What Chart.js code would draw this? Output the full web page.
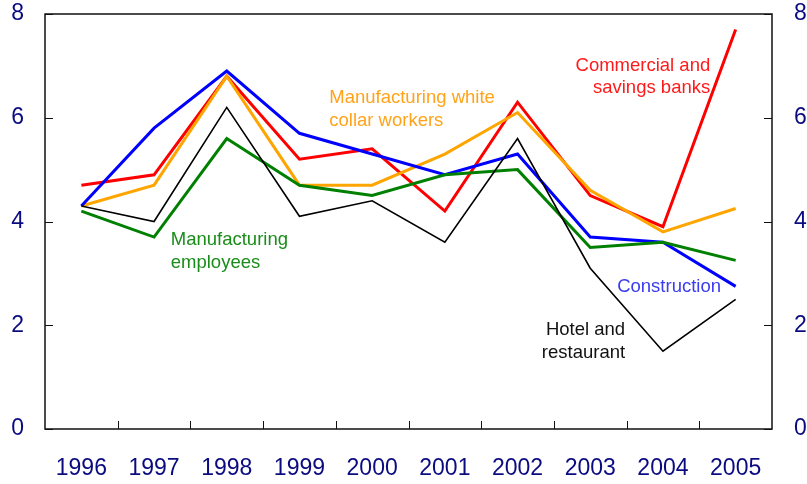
<!DOCTYPE html>
<html>
<head>
<meta charset="utf-8">
<script src="https://cdn.jsdelivr.net/npm/chart.js@4.4.1/dist/chart.umd.min.js"></script>
<style>
  html, body { margin: 0; padding: 0; background: #fff; }
  #wrap { width: 807px; height: 484px; }
</style>
</head>
<body>
<div id="wrap"><canvas id="chart"></canvas></div>
<script>
// categories
var years = ["1996", "1997", "1998", "1999", "2000", "2001", "2002", "2003", "2004", "2005"];

// series values
var construction = [4.3, 5.8, 6.9, 5.7, 5.3, 4.9, 5.3, 3.7, 3.6, 2.75];
var banks        = [4.7, 4.9, 6.8, 5.2, 5.4, 4.2, 6.3, 4.5, 3.9, 7.7];
var whiteCollar  = [4.3, 4.7, 6.8, 4.7, 4.7, 5.3, 6.1, 4.6, 3.8, 4.25];
var mfgEmployees = [4.2, 3.7, 5.6, 4.7, 4.5, 4.9, 5.0, 3.5, 3.6, 3.25];
var hotel        = [4.3, 4.0, 6.2, 4.1, 4.4, 3.6, 5.6, 3.1, 1.5, 2.5];

// y axis ticks
var yTicks = [0, 2, 4, 6, 8];

var navy = "#0b0b80";
var font = "Liberation Sans, Arial, sans-serif";

// in-chart labels: x = category index, y = value
var notes = [
    { lines: ["Commercial and", "savings banks"], x: 8.65, y: 7.0, align: "right", color: "#ff1a1a" },
    { lines: ["Manufacturing white", "collar workers"], x: 3.41, y: 6.38, align: "left", color: "#ffa31a" },
    { lines: ["Manufacturing", "employees"], x: 1.23, y: 3.64, align: "left", color: "#1a8c1a" },
    { lines: ["Construction"], x: 7.37, y: 2.74, align: "left", color: "#3b3bf0" },
    { lines: ["Hotel and", "restaurant"], x: 7.48, y: 1.91, align: "right", color: "#111" }
];

//box, inward tick marks and labels
var decor = {
    id: "decor",
    afterDatasetsDraw: function(chart) {
        var c = chart.ctx, a = chart.chartArea;
        var xs = chart.scales.x, ys = chart.scales.y;
        c.save();
        c.strokeStyle = "#111";
        c.lineWidth = 1.5;
        c.strokeRect(a.left, a.top, a.right - a.left, a.bottom - a.top);
        c.lineWidth = 1;
        c.beginPath();
        yTicks.forEach(function(v) {
            var py = Math.round(ys.getPixelForValue(v)) + 0.5;
            c.moveTo(a.left, py); c.lineTo(a.left + 8, py);
            c.moveTo(a.right, py); c.lineTo(a.right - 8, py);
        });
        for (var i = 1; i < years.length; i++) {
            var px = Math.round(xs.getPixelForValue(i - 0.5)) + 0.5;
            c.moveTo(px, a.bottom); c.lineTo(px, a.bottom - 8);
        }
        c.stroke();

        c.font = "18.5px " + font;
        c.textBaseline = "middle";
        notes.forEach(function(n) {
            c.fillStyle = n.color;
            c.textAlign = n.align;
            var px = xs.getPixelForValue(n.x), py = ys.getPixelForValue(n.y);
            n.lines.forEach(function(t, k) {
                c.fillText(t, px, py + k * 22.5);
            });
        });
        c.restore();
    }
};

function line(data, color, width) {
    return {
        data: data,
        borderColor: color,
        borderWidth: width,
        pointRadius: 0,
        tension: 0,
        fill: false
    };
}

function fitY(width) {
    return function(s) {
        s.width = width;
        s.paddingTop = 0;
        s.paddingBottom = 0;
    };
}

var ctx = document.getElementById("chart");
var chart = new Chart(ctx, {
    type: "line",
    data: {
        labels: years,
        datasets: [
            line(hotel, "#000000", 1.6),
            line(mfgEmployees, "#008000", 3),
            line(construction, "#0000ff", 3),
            line(whiteCollar, "#ffa500", 3),
            line(banks, "#ff0000", 3)
        ]
    },
    options: {
        responsive: true,
        maintainAspectRatio: false,
        animation: false,
        layout: { padding: { top: 14, left: 0, right: 0, bottom: 0 } },
        plugins: {
            legend: { display: false },
            title: { display: false },
            tooltip: { enabled: false }
        },
        scales: {
            x: {
                offset: true,
                grid: { display: false, drawTicks: false },
                border: { display: false },
                ticks: { color: navy, font: { family: font, size: 23 }, padding: 26, maxRotation: 0 },
                afterFit: function(s) { s.height = 55; s.paddingLeft = 0; s.paddingRight = 0; }
            },
            y: {
                min: 0, max: 8,
                afterBuildTicks: function(s) { s.ticks = yTicks.map(function(v) { return { value: v }; }); },
                grid: { display: false, drawTicks: false },
                border: { display: false },
                ticks: { color: navy, font: { family: font, size: 23 }, padding: 21 },
                afterFit: fitY(45)
            },
            y2: {
                position: "right",
                min: 0, max: 8,
                afterBuildTicks: function(s) { s.ticks = yTicks.map(function(v) { return { value: v }; }); },
                grid: { display: false, drawTicks: false },
                border: { display: false },
                ticks: { color: navy, font: { family: font, size: 23 }, padding: 22 },
                afterFit: fitY(35)
            }
        }
    },
    plugins: [decor]
});
</script>
</body>
</html>
